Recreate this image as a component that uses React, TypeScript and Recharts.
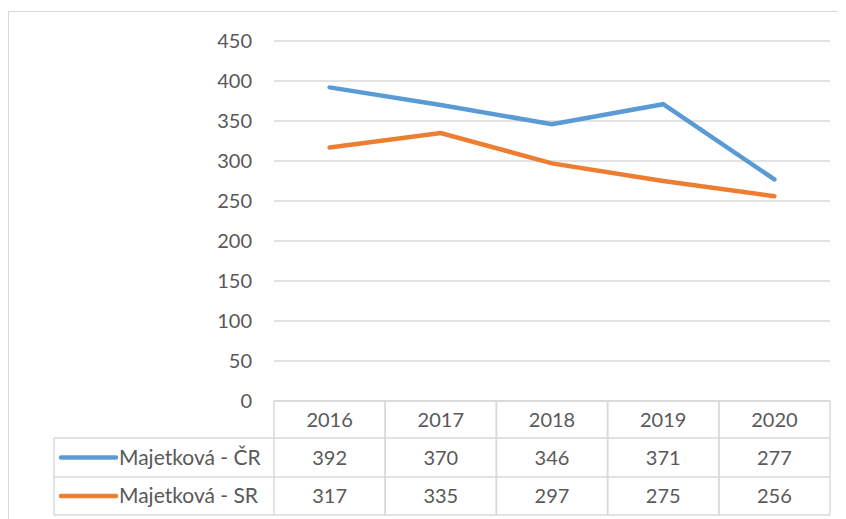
import { LineChart, Line, XAxis, YAxis, CartesianGrid } from 'recharts';

const years = ['2016', '2017', '2018', '2019', '2020'];
const majetkovaCR = [392, 370, 346, 371, 277];
const majetkovaSR = [317, 335, 297, 275, 256];
const yTicks = [0, 50, 100, 150, 200, 250, 300, 350, 400, 450];

const seriesNames = ['Majetková - ČR', 'Majetková - SR'];
const seriesColors = ['#5B9BD5', '#ED7D31'];
const seriesValues = [majetkovaCR, majetkovaSR];

const data = years.map((year, i) => ({
  year,
  cr: majetkovaCR[i],
  sr: majetkovaSR[i],
}));

const FONT = 'Lato, "Open Sans", sans-serif';
const TEXT = '#595959';
const BORDER = '#d9d9d9';

const WIDTH = 838;
const HEIGHT = 511;
const MARGIN = { top: 33, right: 16, bottom: 0, left: 206 };
const BAND = (WIDTH - MARGIN.left - 60 - MARGIN.right) / years.length;

// data table rows, relative to the axis line
const ROW_TOP = [0, 37, 76];
const ROW_BOTTOM = [37, 76, 114];
const TABLE_LEFT = 46;

function TableTick(props: any) {
  const { x, y, payload, index } = props;
  const left = x - BAND / 2;
  const right = x + BAND / 2;
  const mid = (r: number) => y + (ROW_TOP[r] + ROW_BOTTOM[r]) / 2;
  const line = { stroke: BORDER, strokeWidth: 1.5 };
  return (
    <g>
      <line x1={left} x2={right} y1={y + ROW_TOP[0]} y2={y + ROW_TOP[0]} {...line} />
      {ROW_BOTTOM.map((b) => (
        <line key={b} x1={left} x2={right} y1={y + b} y2={y + b} {...line} />
      ))}
      <line x1={left} x2={left} y1={y} y2={y + ROW_BOTTOM[2]} {...line} />
      <line x1={right} x2={right} y1={y} y2={y + ROW_BOTTOM[2]} {...line} />
      <text x={x} y={mid(0)} dy="0.35em" textAnchor="middle" fill={TEXT} fontSize={20} fontFamily={FONT}>
        {payload.value}
      </text>
      {seriesValues.map((vals, r) => (
        <text key={r} x={x} y={mid(r + 1)} dy="0.35em" textAnchor="middle" fill={TEXT} fontSize={20} fontFamily={FONT}>
          {vals[index]}
        </text>
      ))}
      {index === 0 && (
        <g>
          <line x1={TABLE_LEFT} x2={left} y1={y + ROW_BOTTOM[0]} y2={y + ROW_BOTTOM[0]} {...line} />
          <line x1={TABLE_LEFT} x2={left} y1={y + ROW_BOTTOM[1]} y2={y + ROW_BOTTOM[1]} {...line} />
          <line x1={TABLE_LEFT} x2={left} y1={y + ROW_BOTTOM[2]} y2={y + ROW_BOTTOM[2]} {...line} />
          <line x1={TABLE_LEFT} x2={TABLE_LEFT} y1={y + ROW_BOTTOM[0]} y2={y + ROW_BOTTOM[2]} {...line} />
          {seriesNames.map((name, r) => (
            <g key={name}>
              <line
                x1={TABLE_LEFT + 7}
                x2={TABLE_LEFT + 62}
                y1={mid(r + 1)}
                y2={mid(r + 1)}
                stroke={seriesColors[r]}
                strokeWidth={4.5}
                strokeLinecap="round"
              />
              <text x={TABLE_LEFT + 65} y={mid(r + 1)} dy="0.35em" fill={TEXT} fontSize={21} fontFamily={FONT}>
                {name}
              </text>
            </g>
          ))}
        </g>
      )}
    </g>
  );
}

export default function App() {
  return (
    <div style={{ position: 'relative', width: WIDTH, height: HEIGHT, overflow: 'hidden', background: '#fff' }}>
      <style>{'html, body { overflow: hidden; }'}</style>
      <div
        style={{
          position: 'absolute',
          left: 0,
          top: 3,
          right: 0,
          bottom: 0,
          borderTop: `1.5px solid ${BORDER}`,
          borderLeft: `1.5px solid ${BORDER}`,
        }}
      />
      <div style={{ position: 'absolute', left: 0, top: 0 }}>
        <LineChart width={WIDTH} height={HEIGHT} data={data} margin={MARGIN}>
          <CartesianGrid vertical={false} stroke={BORDER} strokeWidth={1.5} />
          <XAxis
            dataKey="year"
            axisLine={false}
            tickLine={false}
            tickSize={0}
            tickMargin={0}
            height={118}
            interval={0}
            padding={{ left: BAND / 2, right: BAND / 2 }}
            tick={<TableTick />}
          />
          <YAxis
            domain={[0, 450]}
            ticks={yTicks}
            axisLine={false}
            tickLine={false}
            tickSize={0}
            tickMargin={22}
            width={60}
            tick={{ fill: TEXT, fontSize: 20, fontFamily: FONT }}
          />
          <Line
            type="linear"
            dataKey="cr"
            stroke={seriesColors[0]}
            strokeWidth={4.5}
            strokeLinecap="round"
            dot={false}
            isAnimationActive={false}
          />
          <Line
            type="linear"
            dataKey="sr"
            stroke={seriesColors[1]}
            strokeWidth={4.5}
            strokeLinecap="round"
            dot={false}
            isAnimationActive={false}
          />
        </LineChart>
      </div>
    </div>
  );
}
